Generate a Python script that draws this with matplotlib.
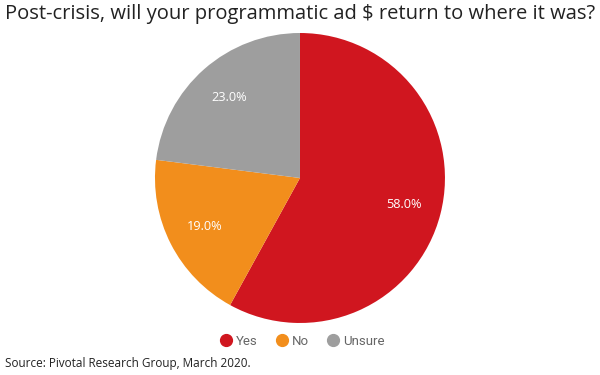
import matplotlib.pyplot as plt
from matplotlib.lines import Line2D

labels = ["Yes", "No", "Unsure"]
values = [58.0, 19.0, 23.0]
colors = ["#d0161f", "#f28e1c", "#9e9e9e"]

fig = plt.figure(figsize=(6, 3.75), dpi=100)
fig.patch.set_facecolor("white")

ax = fig.add_axes([0.2583, 0.1387, 0.4833, 0.7733])
wedges, texts, autotexts = ax.pie(
    values, colors=colors, startangle=90, counterclock=False,
    autopct="%.1f%%", pctdistance=0.74, radius=1.0,
    wedgeprops=dict(linewidth=0),
    textprops=dict(color="white", fontsize=9.2, family="Open Sans"),
)
ax.set_aspect("equal")
ax.set_xlim(-1, 1)
ax.set_ylim(-1, 1)
ax.axis("off")

fig.text(0.5, 0.963, "Post-crisis, will your programmatic ad $ return to where it was?",
         ha="center", va="center", fontsize=14.5, family="Open Sans", color="#222222")

handles = [Line2D([], [], marker="o", linestyle="", markersize=8.5,
                  markerfacecolor=c, markeredgecolor=c) for c in colors]
fig.legend(handles, labels, loc="center", bbox_to_anchor=(0.5, 0.09), ncol=3,
           frameon=False, handletextpad=0.0, columnspacing=1.0, handlelength=1.6,
           prop=dict(family="Roboto", size=9.5), labelcolor="#666666")

fig.text(0.008, 0.032, "Source: Pivotal Research Group, March 2020.",
         ha="left", va="center", fontsize=8.5, family="Open Sans", color="#222222")

fig.savefig("out.png", dpi=100)
